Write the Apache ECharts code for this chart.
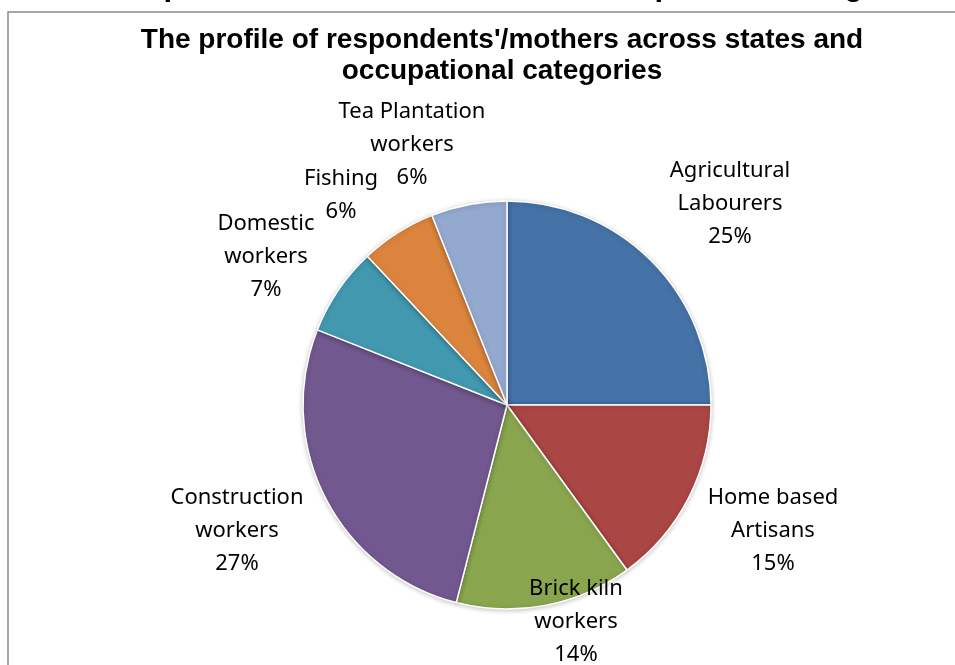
<!DOCTYPE html>
<html>
<head>
<meta charset="utf-8">
<script src="https://cdn.jsdelivr.net/npm/echarts@6/dist/echarts.min.js"></script>
<style>html,body{margin:0;padding:0;background:#fff;}#chart{width:955px;height:665px;}</style>
</head>
<body>
<div id="chart"></div>
<script>
var categories = ["Agricultural\nLabourers", "Home based\nArtisans", "Brick kiln\nworkers", "Construction\nworkers", "Domestic\nworkers", "Fishing", "Tea Plantation\nworkers"];
var values = [25, 15, 14, 27, 7, 6, 6];
var colors = ["#4572A7", "#AA4643", "#89A54E", "#71588F", "#4198AF", "#DB843D", "#93A9CF"];
var titleText = "The profile of respondents'/mothers across states and\noccupational categories";
var captionText = "Profile of respondents across states and occupational categories";

// label anchor positions (layout only)
var labelPos = [[730, 204], [773, 531], [576, 622], [237, 531], [266, 257], [341, 195], [412, 145]];

var chart = echarts.init(document.getElementById('chart'));
chart.setOption({
  animation: false,
  title: {
    text: titleText,
    left: 497, top: 20, textAlign: 'center',
    textStyle: { fontFamily: 'Liberation Sans, Arial, sans-serif', fontWeight: 'bold', fontSize: 28, lineHeight: 31, color: '#000' }
  },
  graphic: [
    { type: 'rect', shape: { x: 8, y: 12, width: 960, height: 670 }, style: { fill: 'none', stroke: '#8c8c8c', lineWidth: 1.5 }, silent: true },
    { type: 'text', x: -26, y: 2, style: { text: captionText, font: 'bold 31px "Liberation Sans", Arial, sans-serif', fill: '#000', align: 'left', verticalAlign: 'bottom' }, silent: true }
  ],
  series: [{
    type: 'pie',
    center: [507, 405],
    radius: [0, 204],
    startAngle: 90,
    clockwise: true,
    data: categories.map(function (c, i) { return { name: c, value: values[i], itemStyle: { color: colors[i] } }; }),
    itemStyle: { borderColor: '#fff', borderWidth: 1.5, shadowBlur: 5, shadowColor: 'rgba(0,0,0,0.22)', shadowOffsetY: 1 },
    label: {
      show: true,
      position: 'outside',
      formatter: function (p) { return p.name + '\n' + p.value + '%'; },
      fontFamily: 'Noto Sans, Open Sans, sans-serif',
      fontSize: 22,
      lineHeight: 33,
      color: '#000',
      align: 'center'
    },
    labelLine: { show: false },
    labelLayout: function (params) {
      var pos = labelPos[params.dataIndex];
      return { x: pos[0], y: pos[1], align: 'center', verticalAlign: 'middle' };
    },
    emphasis: { disabled: true }
  }]
});
</script>
</body>
</html>
